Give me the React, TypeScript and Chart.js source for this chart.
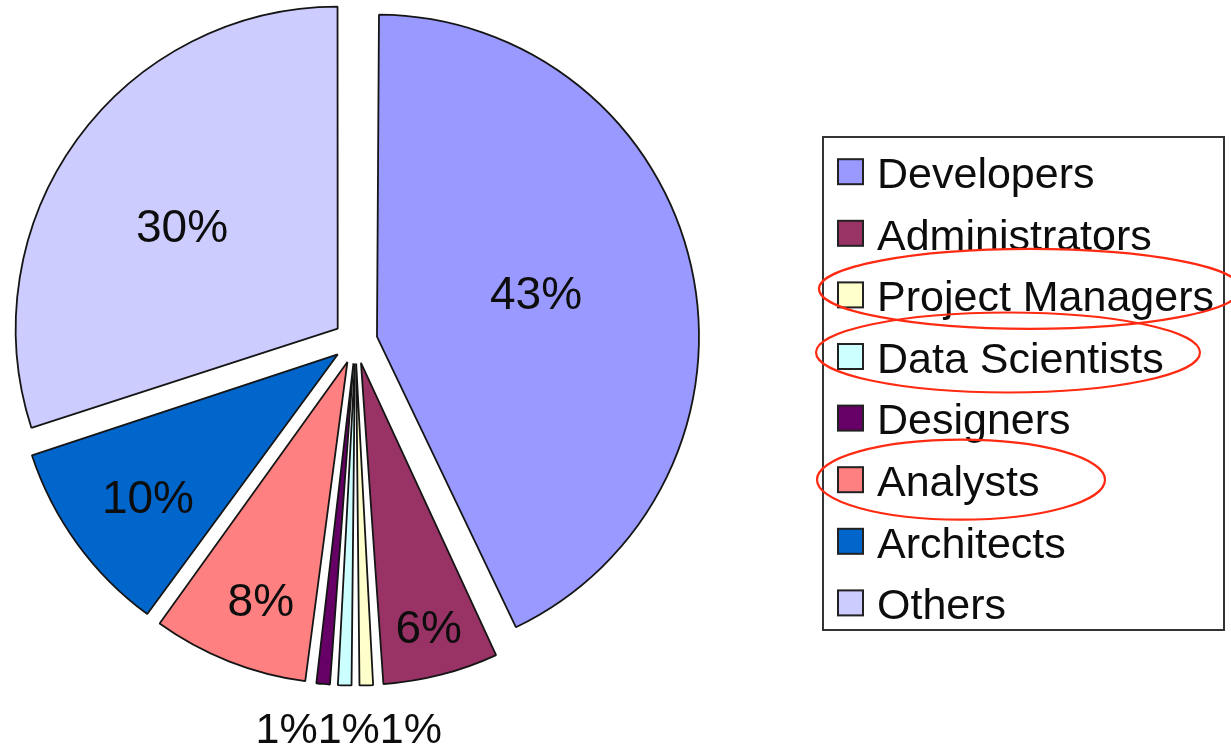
import React, { useEffect, useRef } from "react";
import { Chart, registerables } from "chart.js";

Chart.register(...registerables);

// ---- data ----
const categories = [
  "Developers",
  "Administrators",
  "Project Managers",
  "Data Scientists",
  "Designers",
  "Analysts",
  "Architects",
  "Others",
];
const shares = [43, 6, 1, 1, 1, 8, 10, 30];
const sliceColors = [
  "#9999FF",
  "#993366",
  "#FFFFCC",
  "#CCFFFF",
  "#660066",
  "#FF8080",
  "#0066CC",
  "#CCCCFF",
];
const highlighted = ["Project Managers", "Data Scientists", "Analysts"];

// ---- layout / style ----
const W = 1231;
const H = 748;
const RADIUS = 322;
const EXPLODE_OPTION = 88; // Chart.js translates arcs by offset / 4 => 22px
const FONT = '"Liberation Sans", Arial, Helvetica, sans-serif';

// label placement inside slices: [fraction of radius, angular nudge in degrees]
const labelPlace: Record<string, [number, number]> = {
  Developers: [0.513, -3],
  Administrators: [0.845, 0],
  Analysts: [0.786, -1.6],
  Architects: [0.737, -0.9],
  Others: [0.579, -2.6],
};

const legendFrame = { left: 823, top: 137, right: 1224, bottom: 630 };
const legendRow0 = 171.7;
const legendStep = 61.6;

const ellipseGeom: Record<string, { cx: number; dy: number; rx: number; ry: number }> = {
  "Project Managers": { cx: 1030, dy: -6, rx: 211, ry: 40 },
  "Data Scientists": { cx: 1008, dy: -4, rx: 192, ry: 40 },
  Analysts: { cx: 961, dy: 0, rx: 144, ry: 40 },
};

const explodeFix = {
  id: "explodeFix",
  afterDatasetsUpdate(chart: any) {
    const meta = chart.getDatasetMeta(0);
    meta.data.forEach((arc: any) => {
      const off = ((arc.options && arc.options.offset) || 0) / 4;
      const fix = 1 - Math.sin(Math.min(Math.PI, arc.circumference || 0));
      arc.outerRadius = RADIUS - off * fix;
    });
  },
};

const pctLabels = {
  id: "pctLabels",
  afterDatasetsDraw(chart: any) {
    const ctx: CanvasRenderingContext2D = chart.ctx;
    const meta = chart.getDatasetMeta(0);
    const total = shares.reduce((a, b) => a + b, 0);
    ctx.save();
    ctx.fillStyle = "#0d0d0d";
    const outside: { text: string; x: number; bottom: number }[] = [];
    meta.data.forEach((arc: any, i: number) => {
      const mid = (arc.startAngle + arc.endAngle) / 2;
      const d = ((arc.options && arc.options.offset) || 0) / 4;
      const sx = arc.x + Math.cos(mid) * d;
      const sy = arc.y + Math.sin(mid) * d;
      const text = Math.round((shares[i] / total) * 100) + "%";
      const place = labelPlace[categories[i]];
      if (!place) {
        outside.push({
          text,
          x: sx + Math.cos(mid) * RADIUS,
          bottom: sy + Math.sin(mid) * RADIUS,
        });
        return;
      }
      const a = mid + (place[1] * Math.PI) / 180;
      const x = sx + Math.cos(a) * place[0] * RADIUS;
      const y = sy + Math.sin(a) * place[0] * RADIUS;
      const size = 46;
      ctx.font = `${size}px ${FONT}`;
      ctx.textAlign = "center";
      ctx.textBaseline = "alphabetic";
      ctx.fillText(text, x, y + 0.358 * size);
    });
    if (outside.length) {
      const size = 43;
      ctx.font = `${size}px ${FONT}`;
      ctx.textAlign = "left";
      ctx.textBaseline = "alphabetic";
      outside.sort((p, q) => p.x - q.x);
      const widths = outside.map((o) => ctx.measureText(o.text).width);
      const totalW = widths.reduce((a, b) => a + b, 0);
      const meanX = outside.reduce((a, o) => a + o.x, 0) / outside.length;
      const yMid = Math.max(...outside.map((o) => o.bottom)) + 42;
      let x = meanX - totalW / 2 + 4;
      outside.forEach((o, k) => {
        ctx.fillText(o.text, x, yMid + 0.358 * size);
        x += widths[k];
      });
    }
    ctx.restore();
  },
};

const boxLegend = {
  id: "boxLegend",
  afterDraw(chart: any) {
    const ctx: CanvasRenderingContext2D = chart.ctx;
    ctx.save();
    // frame
    ctx.lineWidth = 2;
    ctx.strokeStyle = "#333";
    ctx.strokeRect(
      legendFrame.left,
      legendFrame.top,
      legendFrame.right - legendFrame.left,
      legendFrame.bottom - legendFrame.top
    );
    const size = 43;
    ctx.font = `${size}px ${FONT}`;
    ctx.textAlign = "left";
    ctx.textBaseline = "alphabetic";
    categories.forEach((name, i) => {
      const y = legendRow0 + i * legendStep;
      ctx.fillStyle = sliceColors[i];
      ctx.fillRect(838, y - 12.5, 25, 25);
      ctx.lineWidth = 2;
      ctx.strokeStyle = "#222";
      ctx.strokeRect(838, y - 12.5, 25, 25);
      ctx.fillStyle = "#0d0d0d";
      ctx.fillText(name, 877, y + 0.358 * size + 1);
    });
    // red highlight ellipses
    ctx.strokeStyle = "#FF2A12";
    ctx.lineWidth = 2.2;
    highlighted.forEach((name) => {
      const i = categories.indexOf(name);
      const g = ellipseGeom[name];
      if (i < 0 || !g) return;
      const y = legendRow0 + i * legendStep + g.dy;
      ctx.beginPath();
      ctx.ellipse(g.cx, y, g.rx, g.ry, 0, 0, Math.PI * 2);
      ctx.stroke();
    });
    ctx.restore();
  },
};

export default function App() {
  const ref = useRef<HTMLCanvasElement | null>(null);

  useEffect(() => {
    if (!ref.current) return;
    const chart = new Chart(ref.current, {
      type: "pie",
      data: {
        labels: categories,
        datasets: [
          {
            data: shares,
            backgroundColor: sliceColors,
            borderColor: "#151515",
            borderWidth: 1.8,
            offset: EXPLODE_OPTION,
          },
        ],
      },
      options: {
        responsive: false,
        animation: false,
        events: [],
        radius: RADIUS,
        layout: { padding: { left: 0, top: 0, right: W - 711, bottom: H - 683 } },
        plugins: {
          legend: { display: false },
          tooltip: { enabled: false },
          title: { display: false },
        },
      } as any,
      plugins: [explodeFix, pctLabels, boxLegend],
    });
    return () => chart.destroy();
  }, []);

  return (
    <div style={{ position: "absolute", left: 0, top: 0, width: W, height: H, background: "#fff" }}>
      <canvas ref={ref} width={W} height={H} style={{ display: "block" }} />
    </div>
  );
}
